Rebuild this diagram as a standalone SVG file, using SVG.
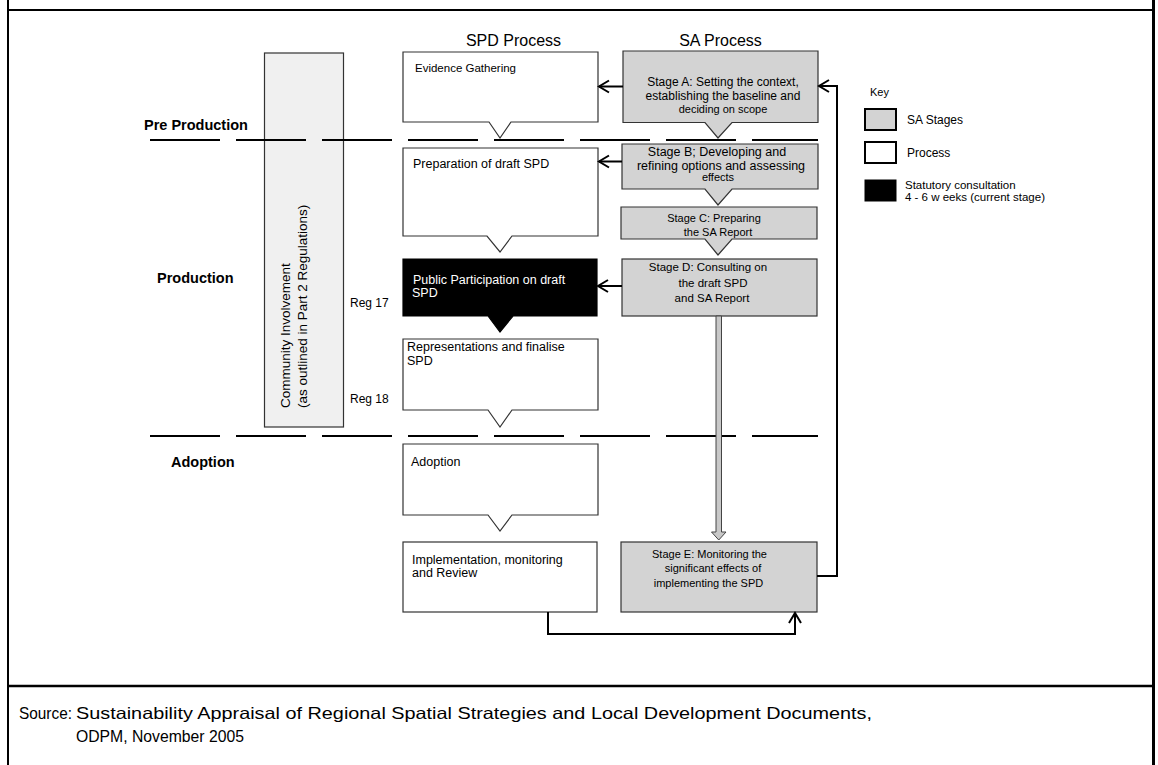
<svg xmlns="http://www.w3.org/2000/svg" width="1158" height="765" viewBox="0 0 1158 765">
<defs>
<style>
text{font-family:"Liberation Sans",Arial,sans-serif;fill:#000}
.box{fill:#fff;stroke:#333;stroke-width:1.2}
.sa{fill:#d3d3d3;stroke:#333;stroke-width:1.2}
.blk{fill:#000;stroke:#000;stroke-width:1.2}
.phase{font-weight:bold;font-size:14.5px}
.dash{stroke:#000;stroke-width:2;stroke-dasharray:70 16;fill:none}
.conn{fill:none;stroke:#000;stroke-width:2}
.c{text-anchor:middle}
.src{font-size:16.5px}
</style>
<marker id="open" markerUnits="userSpaceOnUse" markerWidth="14" markerHeight="16" viewBox="0 0 14 16" refX="12" refY="8" orient="auto">
<path d="M2,2 L12,8 L2,14" fill="none" stroke="#000" stroke-width="2"/>
</marker>
</defs>
<rect width="1158" height="765" fill="#fff"/>
<g id="frame">
<line x1="8" y1="0" x2="8" y2="765" stroke="#000" stroke-width="2"/>
<line x1="1153.5" y1="0" x2="1153.5" y2="765" stroke="#000" stroke-width="3"/>
<line x1="7" y1="10" x2="1155" y2="10" stroke="#000" stroke-width="2"/>
<line x1="7" y1="686" x2="1155" y2="686" stroke="#000" stroke-width="2.5"/>
</g>
<text x="513.5" y="46" class="c" font-size="16">SPD Process</text>
<text x="720.5" y="46" class="c" font-size="16">SA Process</text>
<text x="144" y="130" class="phase">Pre Production</text>
<text x="157" y="283" class="phase">Production</text>
<text x="171" y="467" class="phase">Adoption</text>
<text x="350" y="307" font-size="12">Reg 17</text>
<text x="350" y="403" font-size="12">Reg 18</text>
<g id="community">
<rect x="264.5" y="53" width="79" height="374" fill="#f0f0f0" stroke="#333" stroke-width="1.2"/>
<text transform="translate(290,408) rotate(-90)" font-size="13.5">Community Involvement<tspan x="0" y="16.5">(as outlined in Part 2 Regulations)</tspan></text>
</g>
<g id="dividers">
<line class="dash" x1="150" y1="140" x2="818" y2="140"/>
<line class="dash" x1="150" y1="436" x2="818" y2="436"/>
</g>
<g id="evidence">
<path class="box" d="M403,52 H598 V122 H511 L500,138 L489,122 H403 Z"/>
<text x="415" y="71.5" font-size="11.5">Evidence Gathering</text>
</g>
<g id="preparation">
<path class="box" d="M403,148 H598 V236 H512 L500,252 L487,236 H403 Z"/>
<text x="413" y="168" font-size="12.5">Preparation of draft SPD</text>
</g>
<g id="public">
<path class="blk" d="M403,259 H597 V316 H513 L500,332 L488,316 H403 Z"/>
<text x="413" y="283.5" font-size="12.5" style="fill:#fff">Public Participation on draft</text>
<text x="412" y="296.5" font-size="12.5" style="fill:#fff">SPD</text>
</g>
<g id="representations">
<path class="box" d="M403,339 H598 V410 H512 L500,427 L488,410 H403 Z"/>
<text x="407" y="351" font-size="12.5">Representations and finalise</text>
<text x="407" y="364.5" font-size="12.5">SPD</text>
</g>
<g id="adoption">
<path class="box" d="M403,444 H598 V515 H512 L500,531 L488,515 H403 Z"/>
<text x="411" y="466" font-size="12.5">Adoption</text>
</g>
<g id="implementation">
<rect class="box" x="403" y="542" width="194" height="70"/>
<text x="412" y="564" font-size="12.5">Implementation, monitoring</text>
<text x="412" y="577" font-size="12.5">and Review</text>
</g>
<g id="stageA">
<path class="sa" d="M623,51 H818 V122.5 H732 L718,138 L705,122.5 H623 Z"/>
<text x="723" y="85.5" class="c" font-size="12">Stage A: Setting the context,</text>
<text x="723" y="99.5" class="c" font-size="12">establishing the baseline and</text>
<text x="723" y="113" class="c" font-size="11">deciding on scope</text>
</g>
<g id="stageB">
<path class="sa" d="M622,144 H818 V189 H732 L718,205 L705,189 H622 Z"/>
<text x="717" y="156" class="c" font-size="12.5">Stage B; Developing and</text>
<text x="721" y="169.5" class="c" font-size="12.5">refining options and assessing</text>
<text x="718" y="180.5" class="c" font-size="11">effects</text>
</g>
<g id="stageC">
<path class="sa" d="M621,207 H817 V239 H732 L718,255 L705,239 H621 Z"/>
<text x="714" y="222" class="c" font-size="11">Stage C: Preparing</text>
<text x="718" y="235.5" class="c" font-size="11">the SA Report</text>
</g>
<g id="stageD">
<rect class="sa" x="622" y="259" width="195" height="57"/>
<text x="708" y="271" class="c" font-size="11.5">Stage D: Consulting on</text>
<text x="713" y="287" class="c" font-size="11.5">the draft SPD</text>
<text x="712" y="302" class="c" font-size="11.5">and SA Report</text>
</g>
<g id="stageE">
<rect class="sa" x="621" y="542" width="196" height="70"/>
<text x="709.5" y="558" class="c" font-size="11">Stage E: Monitoring the</text>
<text x="713" y="571.5" class="c" font-size="11">significant effects of</text>
<text x="708.5" y="586.5" class="c" font-size="11">implementing the SPD</text>
</g>
<g id="key">
<text x="870" y="96" font-size="11">Key</text>
<rect x="865" y="109" width="31" height="21" fill="#d3d3d3" stroke="#000" stroke-width="2"/>
<text x="907" y="123.5" font-size="12">SA Stages</text>
<rect x="865" y="142" width="31" height="21" fill="#fff" stroke="#000" stroke-width="2"/>
<text x="907" y="157" font-size="12">Process</text>
<rect x="865" y="180" width="31" height="21" fill="#000" stroke="#000" stroke-width="1"/>
<text x="905" y="188.5" font-size="11.5">Statutory consultation</text>
<text x="905" y="201" font-size="11.5">4 - 6 w eeks (current stage)</text>
</g>
<g id="connectors">
<path class="conn" d="M623,86.5 H599" marker-end="url(#open)"/>
<path class="conn" d="M622,161.5 H599" marker-end="url(#open)"/>
<path class="conn" d="M622,286 H598" marker-end="url(#open)"/>
<path class="conn" d="M817,576 H837 V86 H819" marker-end="url(#open)"/>
<path class="conn" d="M548,612 V634 H795 V613" marker-end="url(#open)"/>
<path d="M716,316 V532 H711.5 L718.75,540 L726,532 H721.5 V316 Z" fill="#c8c8c8" stroke="#444" stroke-width="1"/>
</g>
<text x="19" y="719" class="src" textLength="53" lengthAdjust="spacingAndGlyphs">Source:</text>
<text x="76" y="719" class="src" textLength="796" lengthAdjust="spacingAndGlyphs">Sustainability Appraisal of Regional Spatial Strategies and Local Development Documents,</text>
<text x="76" y="742" class="src" textLength="168" lengthAdjust="spacingAndGlyphs">ODPM, November 2005</text>
</svg>
